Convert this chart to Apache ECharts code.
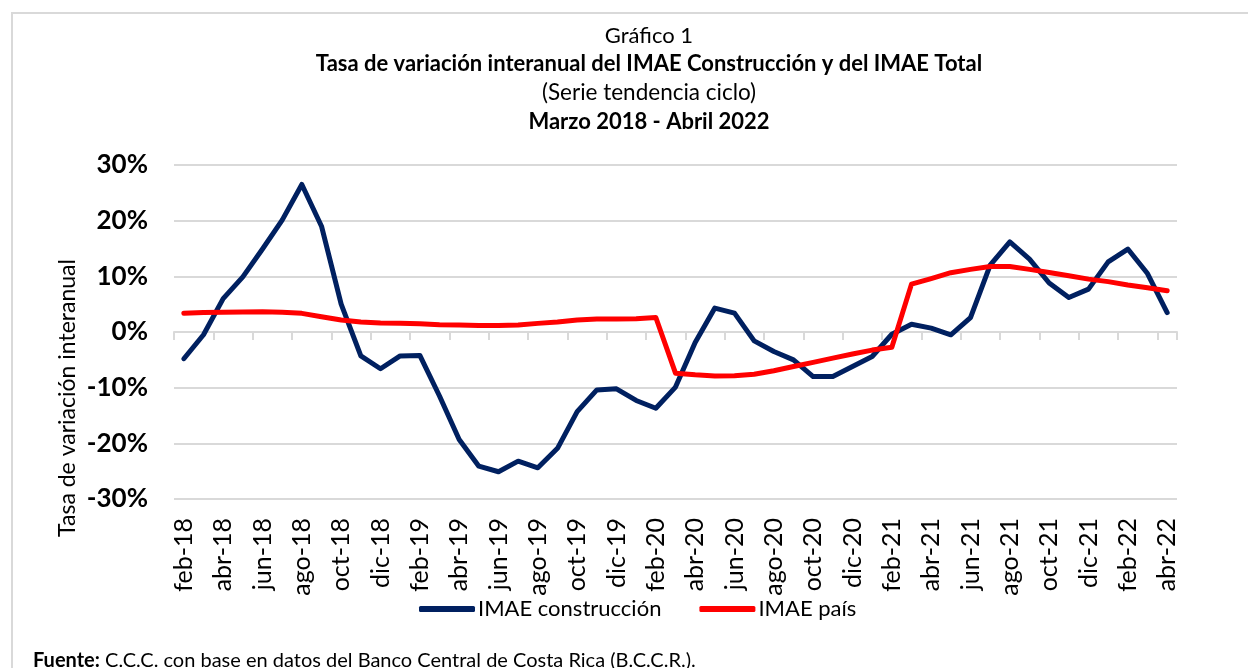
<!DOCTYPE html>
<html>
<head>
<meta charset="utf-8">
<script src="https://cdn.jsdelivr.net/npm/echarts@6/dist/echarts.min.js"></script>
<style>
  html, body { margin: 0; padding: 0; background: #fff; }
  #chart { width: 1248px; height: 668px; }
</style>
</head>
<body>
<div id="chart"></div>
<script>
// meses (feb-18 .. abr-22)
const meses = [
  'feb-18', 'mar-18', 'abr-18', 'may-18', 'jun-18', 'jul-18', 'ago-18', 'sep-18', 'oct-18', 'nov-18', 'dic-18',
  'ene-19', 'feb-19', 'mar-19', 'abr-19', 'may-19', 'jun-19', 'jul-19', 'ago-19', 'sep-19', 'oct-19', 'nov-19', 'dic-19',
  'ene-20', 'feb-20', 'mar-20', 'abr-20', 'may-20', 'jun-20', 'jul-20', 'ago-20', 'sep-20', 'oct-20', 'nov-20', 'dic-20',
  'ene-21', 'feb-21', 'mar-21', 'abr-21', 'may-21', 'jun-21', 'jul-21', 'ago-21', 'sep-21', 'oct-21', 'nov-21', 'dic-21',
  'ene-22', 'feb-22', 'mar-22', 'abr-22',
];

// tasa de variación interanual, en %
const imaeConstruccion = [
  -4.8, -0.5, 6.0, 9.9, 14.9, 20.1, 26.5, 19.0, 5.0, -4.3, -6.6,
  -4.3, -4.2, -11.5, -19.3, -24.1, -25.1, -23.2, -24.4, -20.9, -14.3, -10.4, -10.2,
  -12.3, -13.7, -9.9, -1.9, 4.3, 3.4, -1.6, -3.5, -5.0, -8.0, -8.0, -6.2,
  -4.4, -0.4, 1.4, 0.7, -0.5, 2.6, 12.0, 16.2, 13.1, 8.8, 6.2, 7.7,
  12.6, 14.9, 10.5, 3.5,
];

const imaePais = [
  3.35, 3.5, 3.55, 3.6, 3.65, 3.55, 3.35, 2.75, 2.15, 1.8, 1.6,
  1.55, 1.5, 1.3, 1.25, 1.15, 1.15, 1.25, 1.55, 1.8, 2.15, 2.35, 2.35,
  2.4, 2.6, -7.4, -7.7, -7.9, -7.85, -7.6, -6.95, -6.2, -5.45, -4.7, -3.95,
  -3.25, -2.75, 8.6, 9.6, 10.65, 11.25, 11.75, 11.75, 11.25, 10.7, 10.1, 9.5,
  9.05, 8.45, 7.95, 7.4,
];

const yTicks = [-30, -20, -10, 0, 10, 20, 30];

const FONT = 'Lato, "Open Sans", sans-serif';
const GRID = '#D9D9D9';
const AZUL = '#002060';
const ROJO = '#FF0000';

const chart = echarts.init(document.getElementById('chart'), null, { renderer: 'canvas' });

chart.setOption({
  animation: false,
  backgroundColor: '#fff',
  textStyle: { fontFamily: FONT, color: '#000' },
  graphic: [
    {
      type: 'rect',
      silent: true,
      shape: { x: 12, y: 13, width: 1260, height: 700 },
      style: { fill: 'none', stroke: GRID, lineWidth: 2 },
    },
    {
      type: 'text', x: 649, y: 36,
      style: { text: 'Gráfico 1', font: '22px ' + FONT, fill: '#000', align: 'center', verticalAlign: 'middle' },
    },
    {
      type: 'text', x: 649, y: 64,
      style: { text: 'Tasa de variación interanual del IMAE Construcción y del IMAE Total', font: 'bold 22px ' + FONT, fill: '#000', align: 'center', verticalAlign: 'middle' },
    },
    {
      type: 'text', x: 649, y: 93,
      style: { text: '(Serie tendencia ciclo)', font: '22.5px ' + FONT, fill: '#000', align: 'center', verticalAlign: 'middle' },
    },
    {
      type: 'text', x: 649, y: 122,
      style: { text: 'Marzo 2018 - Abril 2022', font: 'bold 22px ' + FONT, fill: '#000', align: 'center', verticalAlign: 'middle' },
    },
    {
      type: 'text', x: 68, y: 398, rotation: Math.PI / 2,
      style: { text: 'Tasa de variación interanual', font: '23px ' + FONT, fill: '#000', align: 'center', verticalAlign: 'middle' },
    },
    {
      type: 'text', x: 33, y: 661,
      style: {
        text: '{b|Fuente:} C.C.C. con base en datos del Banco Central de Costa Rica (B.C.C.R.).',
        font: '20px ' + FONT, fill: '#000', verticalAlign: 'middle',
        rich: { b: { fontWeight: 'bold', fontSize: 20, fontFamily: FONT } },
      },
    },
  ],
  legend: {
    left: 419,
    top: 598,
    padding: 0,
    itemWidth: 56,
    itemHeight: 6,
    itemGap: 38,
    icon: 'roundRect',
    textStyle: { fontSize: 22, fontFamily: FONT, color: '#000', padding: [0, 0, 0, -2] },
    data: ['IMAE construcción', 'IMAE país'],
  },
  grid: { left: 174, right: 71, top: 165, bottom: 169 },
  xAxis: [
    {
      type: 'category',
      data: meses,
      position: 'bottom',
      boundaryGap: true,
      axisLine: { show: false, onZero: false },
      axisTick: { show: false },
      axisLabel: { interval: 1, rotate: 90, margin: 19, fontSize: 25, color: '#000', fontFamily: FONT },
    },
    {
      type: 'category',
      data: meses,
      position: 'top',
      boundaryGap: true,
      axisLine: { show: true, onZero: true, lineStyle: { color: GRID, width: 2 } },
      axisTick: { show: true, inside: true, interval: 1, length: 8, lineStyle: { color: GRID, width: 2 } },
      axisLabel: { show: false },
    },
  ],
  yAxis: {
    type: 'value',
    min: yTicks[0],
    max: yTicks[yTicks.length - 1],
    interval: 10,
    axisLine: { show: false },
    axisTick: { show: false },
    axisLabel: { formatter: (v) => v + '%', fontSize: 26, fontWeight: 'bold', color: '#000', margin: 26, fontFamily: FONT },
    splitLine: { lineStyle: { color: GRID, width: 2 } },
  },
  series: [
    {
      name: 'IMAE construcción',
      type: 'line',
      xAxisIndex: 0,
      data: imaeConstruccion,
      showSymbol: false,
      symbol: 'none',
      color: AZUL,
      lineStyle: { width: 5, color: AZUL, cap: 'round', join: 'round' },
      z: 3,
    },
    {
      name: 'IMAE país',
      type: 'line',
      xAxisIndex: 0,
      data: imaePais,
      showSymbol: false,
      symbol: 'none',
      color: ROJO,
      lineStyle: { width: 5, color: ROJO, cap: 'round', join: 'round' },
      z: 4,
    },
  ],
});
</script>
</body>
</html>
